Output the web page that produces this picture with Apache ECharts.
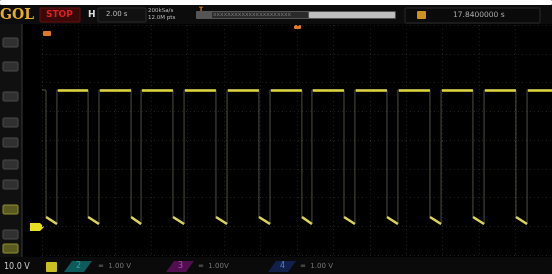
<!DOCTYPE html>
<html>
<head>
<meta charset="utf-8">
<script src="https://cdn.jsdelivr.net/npm/echarts@6/dist/echarts.min.js"></script>
<style>
  html, body { margin: 0; padding: 0; background: #fff; }
  #chart { width: 552px; height: 274px; }
</style>
</head>
<body>
<div id="chart"></div>
<script>
// time of each falling / rising edge, seconds from trigger (2 s/div)
const fallTimes = [-13.78, -11.47, -9.11, -6.81, -4.45, -2.09, 0.27, 2.58, 4.94, 7.30, 9.66, 12.02];
const riseTimes = [-13.18, -10.87, -8.56, -6.20, -3.84, -1.48, 0.82, 3.18, 5.54, 7.91, 10.27, 12.63];
// levels in divisions
const highLevel = 1.74;
const lowStart = -2.68;
const lowEnd = -2.92;
const timeRange = [-14, 14];
const topLabels = ['2.00 s', '200kSa/s', '12.0M pts', '17.8400000 s'];
const channelLabels = ['10.0 V', '1.00 V', '1.00V', '1.00 V'];

const chart = echarts.init(document.getElementById('chart'));

// full trace (faint edges)
const trace = [[timeRange[0], highLevel]];
fallTimes.forEach((f, i) => {
  trace.push([f, highLevel], [f, lowStart], [riseTimes[i], lowEnd], [riseTimes[i], highLevel]);
});
trace.push([timeRange[1], highLevel]);

// bright flat tops and low ramps
const tops = [];
riseTimes.forEach((r, i) => {
  const end = i + 1 < fallTimes.length ? fallTimes[i + 1] : timeRange[1];
  tops.push({coords: [[r + 0.05, highLevel], [end, highLevel]]});
});
const ramps = fallTimes.map((f, i) => ({coords: [[f, lowStart], [riseTimes[i], lowEnd]]}));

const font = 'DejaVu Sans';
const txt = (x, y, text, fill, size, extra) => ({
  type: 'text', x, y, style: Object.assign({text, fill, font: `${size}px ${font}`}, extra || {})
});
const rect = (x, y, w, h, fill, stroke) => ({
  type: 'rect', shape: {x, y, width: w, height: h, r: 1},
  style: {fill, stroke: stroke || null, lineWidth: 1}
});

const leftIcons = [38, 62, 92, 118, 138, 160, 180, 205, 230, 244];
const graphics = [
  // top bar
  rect(0, 0, 552, 5, '#ffffff'),
  rect(0, 5, 552, 19, '#0c0c0c'),
  txt(0, 8, 'GOL', '#e8b020', 14, {font: 'bold 14px DejaVu Serif'}),
  rect(40, 8, 40, 14, '#3a0808', '#6a1010'),
  txt(46, 10, 'STOP', '#e02020', 9, {font: 'bold 9px DejaVu Sans'}),
  txt(88, 10, 'H', '#dddddd', 9, {font: 'bold 9px DejaVu Sans'}),
  rect(98, 8, 48, 14, '#111111', '#2c2c2c'),
  txt(106, 11, topLabels[0], '#bbbbbb', 7),
  txt(148, 8, topLabels[1], '#bbbbbb', 5.5),
  txt(148, 15, topLabels[2], '#bbbbbb', 5.5),
  rect(196, 11, 200, 8, '#555555'),
  rect(212, 12, 96, 6, '#2a2a2a'),
  txt(213, 11, 'xxxxxxxxxxxxxxxxxxxxxx', '#777777', 6),
  rect(309, 12, 86, 6, '#bfbfbf'),
  txt(199, 6, 'T', '#e08030', 6, {font: 'bold 6px DejaVu Sans'}),
  rect(405, 8, 135, 15, '#0a0a0a', '#2a2a2a'),
  rect(417, 11, 9, 8, '#d09020'),
  txt(453, 11, topLabels[3], '#aaaaaa', 7.5),
  // left strip
  rect(0, 24, 22, 234, '#101010'),
  {type: 'line', shape: {x1: 22, y1: 24, x2: 22, y2: 258}, style: {stroke: '#3a3a3a', lineWidth: 1}},
  // trigger markers
  rect(43, 31, 8, 5, '#e07a20'),
  rect(294, 25, 7, 4, '#e07a20'),
  // channel 1 ground marker
  {type: 'polygon', shape: {points: [[30, 223], [40, 223], [44, 227], [40, 231], [30, 231]]}, style: {fill: '#e8e020'}},
  // bottom bar
  rect(0, 257, 552, 17, '#0a0a0a'),
  txt(4, 263, channelLabels[0], '#cccccc', 8),
  rect(46, 262, 11, 10, '#c8c020'),
  {type: 'polygon', shape: {points: [[64, 272], [72, 261], [92, 261], [84, 272]]}, style: {fill: '#0e5a5a'}},
  txt(76, 262, '2', '#30a0a0', 8),
  txt(98, 263, '=  ' + channelLabels[1], '#777777', 7),
  {type: 'polygon', shape: {points: [[166, 272], [174, 261], [194, 261], [186, 272]]}, style: {fill: '#501050'}},
  txt(178, 262, '3', '#c040c0', 8),
  txt(198, 263, '=  ' + channelLabels[2], '#777777', 7),
  {type: 'polygon', shape: {points: [[268, 272], [276, 261], [296, 261], [288, 272]]}, style: {fill: '#10204a'}},
  txt(280, 262, '4', '#5080d0', 8),
  txt(300, 263, '=  ' + channelLabels[3], '#777777', 7)
];
leftIcons.forEach((y, i) => {
  const yellow = i === 7 || i === 9;
  graphics.push(rect(3, y, 15, 9, yellow ? '#5a5a20' : '#303030', yellow ? '#909030' : '#4a4a4a'));
});

chart.setOption({
  animation: false,
  backgroundColor: '#000000',
  grid: {left: 42, right: 0, top: 25, bottom: 19},
  xAxis: {
    type: 'value', min: timeRange[0], max: timeRange[1], interval: 2,
    axisLine: {show: false}, axisTick: {show: false}, axisLabel: {show: false},
    splitLine: {show: true, lineStyle: {color: '#1e1e1e', type: [1, 3], width: 1}}
  },
  yAxis: {
    type: 'value', min: -4, max: 4, interval: 1,
    axisLine: {show: false}, axisTick: {show: false}, axisLabel: {show: false},
    splitLine: {show: true, lineStyle: {color: '#1e1e1e', type: [1, 3], width: 1}}
  },
  graphic: graphics,
  series: [
    {
      type: 'line', data: trace, symbol: 'none', silent: true,
      lineStyle: {color: 'rgba(175,175,150,0.45)', width: 1}
    },
    {
      type: 'lines', coordinateSystem: 'cartesian2d', polyline: false, data: tops,
      lineStyle: {color: '#e8e030', width: 2.5, opacity: 1}
    },
    {
      type: 'lines', coordinateSystem: 'cartesian2d', polyline: false, data: ramps,
      lineStyle: {color: '#e8e050', width: 2.5, opacity: 1}
    }
  ]
});
</script>
</body>
</html>
